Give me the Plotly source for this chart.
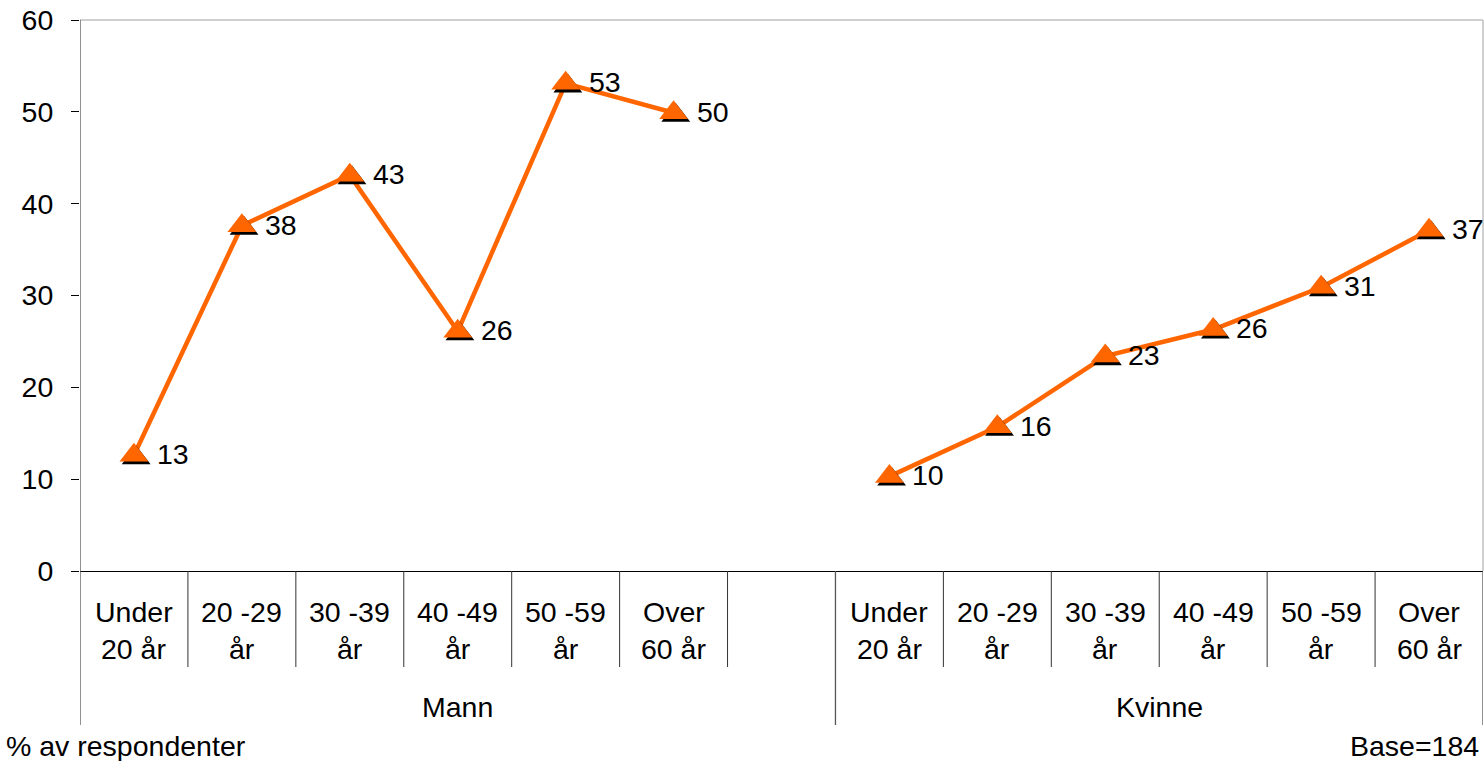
import plotly.graph_objects as go

# ---- data ----
cat_line1 = ["Under", "20 -29", "30 -39", "40 -49", "50 -59", "Over"]
cat_line2 = ["20 år", "år", "år", "år", "år", "60 år"]
groups = ["Mann", "Kvinne"]
mann = [12.6, 37.6, 43.1, 26.1, 53.1, 49.9]
kvinne = [10.3, 15.7, 23.4, 26.3, 30.9, 37.1]
y_ticks = [0, 10, 20, 30, 40, 50, 60]
footnote_left = "% av respondenter"
footnote_right = "Base=184"

ORANGE = "#FF6600"
FONT = "Liberation Sans, Arial, sans-serif"
FS = 28.5

n = len(cat_line1)
# Mann occupies slots 0..n (last slot empty), Kvinne slots n+1 .. 2n
mann_x = list(range(n))
kvinne_x = [n + 1 + i for i in range(n)]
total_slots = 2 * n + 1

# layout geometry (pixels)
W, H = 1484, 761
ML, MR, MT, MB = 80, 1, 20, 190
plot_h = H - MT - MB
plot_w = W - ML - MR


def py(pix):
    """convert pixel row to paper y"""
    return (H - MB - pix) / plot_h


xs = mann_x + [None] + kvinne_x
ys = mann + [None] + kvinne

dx = 2.2 / (plot_w / total_slots)
dy = 2.8 / (plot_h / 60)

fig = go.Figure()
fig.add_trace(go.Scatter(x=xs, y=ys, mode="lines", connectgaps=False,
                         line=dict(color=ORANGE, width=4.5), hoverinfo="skip",
                         showlegend=False))
fig.add_trace(go.Scatter(x=[x + dx for x in mann_x + kvinne_x],
                         y=[y - dy for y in mann + kvinne], mode="markers",
                         marker=dict(symbol="triangle-up", size=25, color="black"),
                         hoverinfo="skip", showlegend=False))
fig.add_trace(go.Scatter(x=mann_x + kvinne_x, y=mann + kvinne, mode="markers",
                         marker=dict(symbol="triangle-up", size=25, color=ORANGE),
                         showlegend=False))

annotations = []
for x, y in zip(mann_x + kvinne_x, mann + kvinne):
    annotations.append(dict(x=x, y=y, xref="x", yref="y", text=str(int(y + 0.5)),
                            showarrow=False, xanchor="left", yanchor="middle",
                            xshift=21, yshift=1, font=dict(family=FONT, size=FS, color="black")))

for xs_g in (mann_x, kvinne_x):
    for i, x in enumerate(xs_g):
        annotations.append(dict(x=x, y=py(612), xref="x", yref="paper", text=cat_line1[i],
                                showarrow=False, xanchor="center", yanchor="middle",
                                font=dict(family=FONT, size=FS, color="black")))
        annotations.append(dict(x=x, y=py(649), xref="x", yref="paper", text=cat_line2[i],
                                showarrow=False, xanchor="center", yanchor="middle",
                                font=dict(family=FONT, size=FS, color="black")))

group_centers = [(-0.5 + n + 0.5) / 2, (n + 0.5 + total_slots - 0.5) / 2]
for g, c in zip(groups, group_centers):
    annotations.append(dict(x=c, y=py(707), xref="x", yref="paper", text=g,
                            showarrow=False, xanchor="center", yanchor="middle",
                            font=dict(family=FONT, size=FS, color="black")))

annotations.append(dict(x=-ML / plot_w + 4 / plot_w, y=py(746), xref="paper", yref="paper",
                        text=footnote_left, showarrow=False, xanchor="left", yanchor="middle",
                        font=dict(family=FONT, size=FS, color="black")))
annotations.append(dict(x=1 - 2 / plot_w, y=py(746), xref="paper", yref="paper",
                        text=footnote_right, showarrow=False, xanchor="right", yanchor="middle",
                        font=dict(family=FONT, size=FS, color="black")))

shapes = []
# plot border top/right (light gray)
shapes.append(dict(type="line", xref="paper", yref="paper", x0=0, x1=1, y0=1, y1=1,
                   line=dict(color="#C0C0C0", width=1.5)))
shapes.append(dict(type="line", xref="paper", yref="paper", x0=1, x1=1, y0=0, y1=1,
                   line=dict(color="#C0C0C0", width=1.5)))
# category dividers
for k in range(total_slots - 1):
    b = k + 0.5
    if b == n + 0.5:
        continue
    shapes.append(dict(type="line", xref="x", yref="paper", x0=b, x1=b, y0=0, y1=py(667),
                       line=dict(color="#333333", width=1)))
# group boundaries
for b in (-0.5, n + 0.5, total_slots - 0.5):
    shapes.append(dict(type="line", xref="x", yref="paper", x0=b, x1=b, y0=1 if b == -0.5 else 0,
                       y1=py(725), line=dict(color="#555555", width=1.3)))

fig.update_layout(
    width=W, height=H,
    margin=dict(l=ML, r=MR, t=MT, b=MB),
    paper_bgcolor="white", plot_bgcolor="white",
    annotations=annotations, shapes=shapes,
    font=dict(family=FONT, size=FS, color="black"),
    xaxis=dict(range=[-0.5, total_slots - 0.5], showgrid=False, zeroline=False,
               showticklabels=False, ticks="", showline=True, linecolor="black", linewidth=1.3,
               fixedrange=True),
    yaxis=dict(range=[0, 60], tickvals=y_ticks, showgrid=False, zeroline=False,
               ticks="outside", ticklen=8, tickcolor="black", tickwidth=1.3,
               showline=False, ticklabelstandoff=12,
               tickfont=dict(family=FONT, size=FS, color="black"), fixedrange=True),
)

fig.write_html("out.html", config={"displayModeBar": False},
               post_script="document.body.style.margin='0px';document.body.style.overflow='hidden';")
